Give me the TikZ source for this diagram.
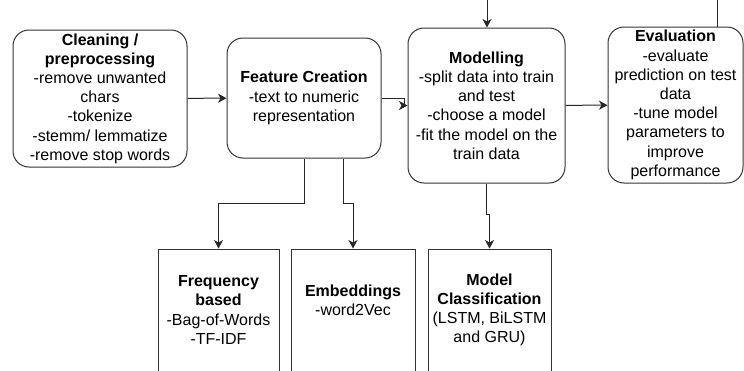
\documentclass[tikz,border=0pt]{standalone}
\usepackage{fontspec}
\setmainfont{Liberation Sans}
\usetikzlibrary{arrows.meta}
\begin{document}
\begin{tikzpicture}[x=1pt,y=-1pt,
  box/.style={draw=black!80, line width=1pt, align=center, inner sep=0pt,
    font=\fontsize{16}{19.2}\selectfont},
  rbox/.style={box, rounded corners=16pt},
  line/.style={draw=black!85, line width=1pt},
  arr/.style={line, -{Stealth[length=8.5pt,width=9pt,inset=2.5pt]}}]
\useasboundingbox (0,0) rectangle (744,370);
\clip (0,0) rectangle (744,370);
\fill[white] (0,0) rectangle (744,370);

\node[rbox, minimum width=174pt, minimum height=137pt] (clean) at (100,98.5)
  {\textbf{Cleaning /}\\\textbf{preprocessing}\\-remove unwanted\\chars\\-tokenize\\-stemm/ lemmatize\\-remove stop words};
\node[rbox, minimum width=154pt, minimum height=120pt] (feat) at (304,98)
  {\textbf{Feature Creation}\\-text to numeric\\representation};
\node[rbox, minimum width=157pt, minimum height=155pt] (model) at (486.5,105.5)
  {\textbf{Modelling}\\-split data into train\\and test\\-choose a model\\-fit the model on the\\train data};
\node[rbox, minimum width=135pt, minimum height=156pt] (eval) at (675.5,105)
  {\textbf{Evaluation}\\-evaluate\\prediction on test\\data\\-tune model\\parameters to\\improve\\performance};

\node[box, minimum width=121pt, minimum height=122pt] (freq) at (218.5,310)
  {\textbf{Frequency}\\\textbf{based}\\-Bag-of-Words\\-TF-IDF};
\node[box, minimum width=124pt, minimum height=122pt] (emb) at (353,310)
  {\textbf{Embeddings}\\-word2Vec\\\mbox{}};
\node[box, minimum width=123pt, minimum height=122pt] (mclass) at (489.5,310)
  {\textbf{Model}\\\textbf{Classification}\\(LSTM, BiLSTM\\and GRU)};

\coordinate (topin) at (487,0);
\coordinate (evtop) at (717,0);

\draw[arr] (clean) -- (feat);
\draw[arr] (feat.east) -- (404,98) |- (model.west);
\draw[arr] (model) -- (eval);
\draw[arr] (topin) -- (topin |- model.north);
\draw[line] (evtop) -- (evtop |- eval.north);
\draw[arr] (feat.south) -- ++(0,45) -| (freq.north);
\draw[arr] ([xshift=39pt]feat.south) -- ++(0,45) -| (emb.north);
\draw[arr] (model.south) -- ++(0,31) -| (mclass.north);
\end{tikzpicture}
\end{document}
